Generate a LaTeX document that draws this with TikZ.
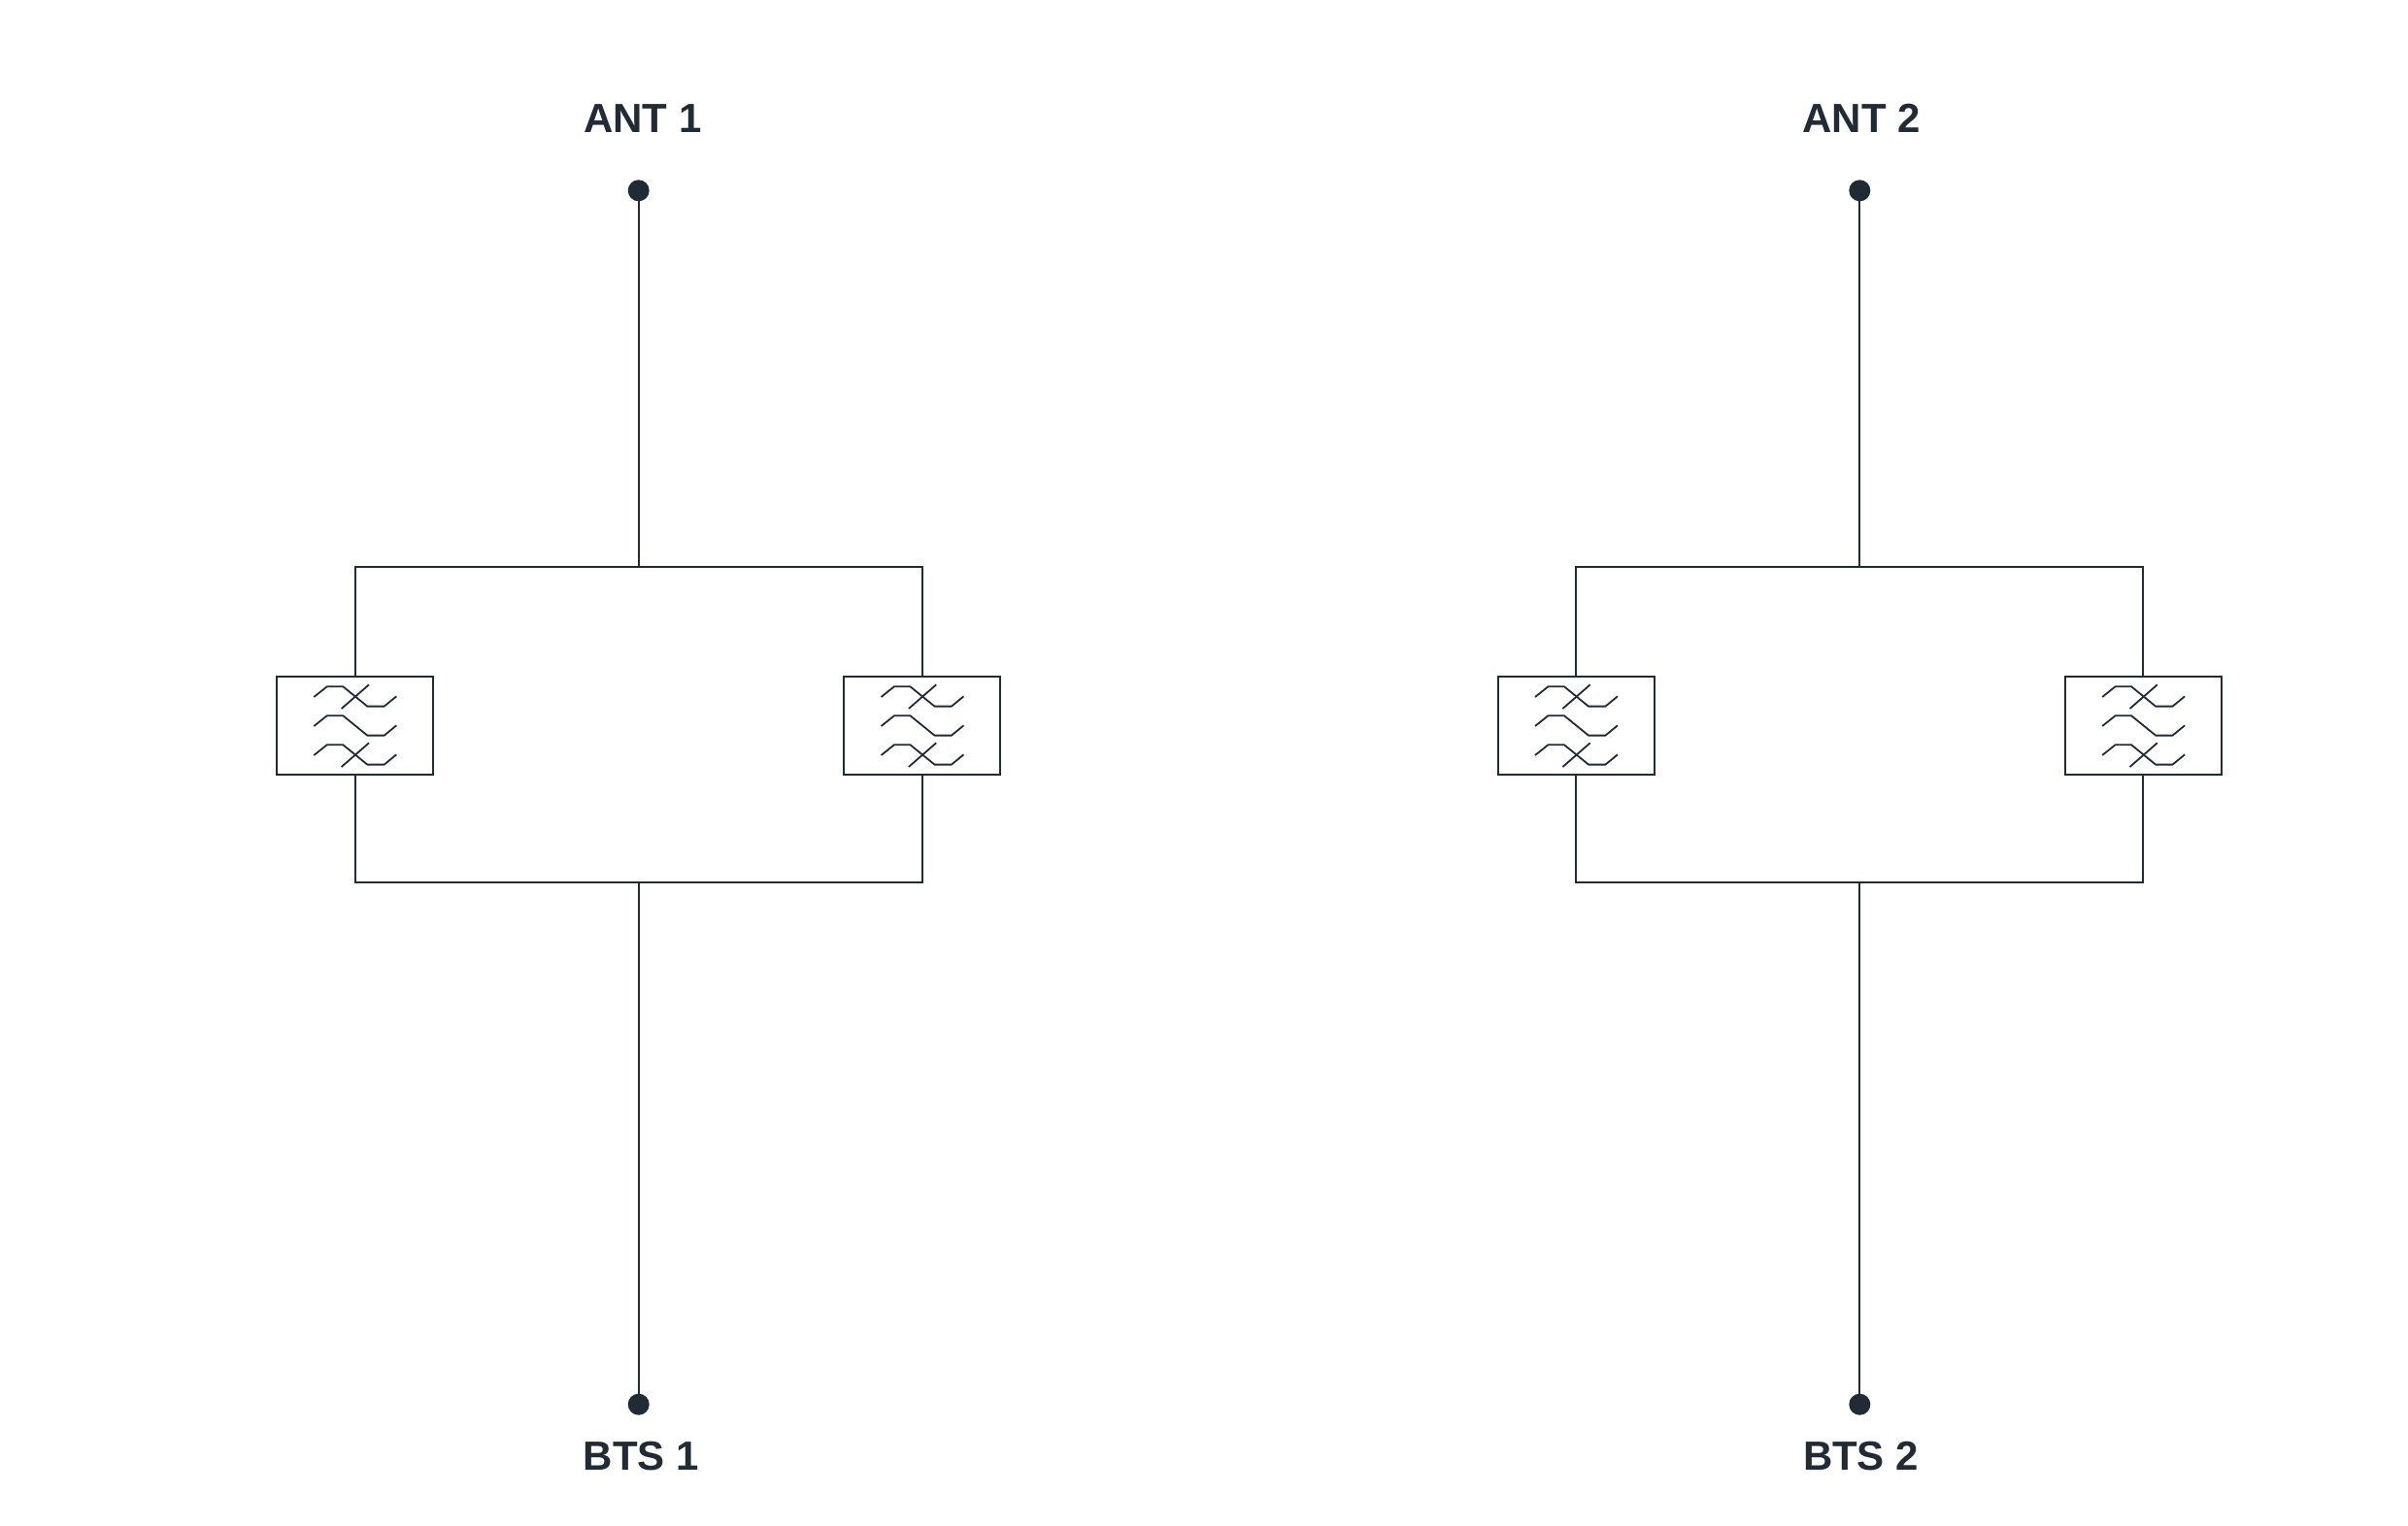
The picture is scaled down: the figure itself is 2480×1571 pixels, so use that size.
\documentclass[tikz,border=0pt]{standalone}
\usepackage{fontspec}
\setmainfont{Liberation Sans}
\definecolor{ink}{HTML}{212B36}
\tikzset{
  wire/.style={draw=ink,line width=2pt},
  filterbox/.style={draw=ink,line width=2pt,fill=white,rectangle,minimum width=160.6pt,minimum height=100.5pt,inner sep=0pt,outer sep=0pt},
  port/.style={circle,fill=ink,draw=none,minimum size=22pt,inner sep=0pt,outer sep=0pt},
  portlabel/.style={text=ink,font=\fontsize{42pt}{42pt}\selectfont\bfseries,anchor=base,inner sep=0pt},
  glyphline/.style={draw=ink,line width=1.8pt}
}
\newcommand{\fglyph}[1]{%
  \begin{scope}[shift={(#1)}]
    \foreach \dy in {-30,0,30}{
      \draw[glyphline] (-42.2,\dy+0.7) -- (-28.8,\dy-10) -- (-12.2,\dy-10) -- (12.8,\dy+10.3) -- (30.2,\dy+10.3) -- (42.8,\dy+0);
    }
    \foreach \dy in {-30,30}{
      \draw[glyphline] (-13.8,\dy+12.7) -- (14.5,\dy-12);
    }
  \end{scope}}
\begin{document}
\begin{tikzpicture}[x=1pt,y=-1pt]
\useasboundingbox (0,0) rectangle (2480,1571);
\foreach \n/\cx/\lx/\rx/\tx/\bx in {1/657.7/365.5/949.7/662/660.5,2/1915.3/1623.2/2207.3/1917.2/1916.5}{
  \node[port] (ant\n) at (\cx,196.3) {};
  \node[port] (bts\n) at (\cx,1446.7) {};
  \node[portlabel] (antl\n) at (\tx,136) {ANT \n};
  \node[portlabel] (btsl\n) at (\bx,1514) {BTS \n};
  \coordinate (jt\n) at (\cx,584);
  \coordinate (jb\n) at (\cx,909);
  \node[filterbox] (fl\n) at (\lx,747.3) {};
  \node[filterbox] (fr\n) at (\rx,747.3) {};
  \draw[wire] (ant\n) -- (jt\n);
  \draw[wire] (bts\n) -- (jb\n);
  \draw[wire,line join=miter] (fl\n.north) -- (fl\n.north |- jt\n) -- (fr\n.north |- jt\n) -- (fr\n.north);
  \draw[wire,line join=miter] (fl\n.south) -- (fl\n.south |- jb\n) -- (fr\n.south |- jb\n) -- (fr\n.south);
  \fglyph{fl\n}
  \fglyph{fr\n}
}
\end{tikzpicture}
\end{document}
